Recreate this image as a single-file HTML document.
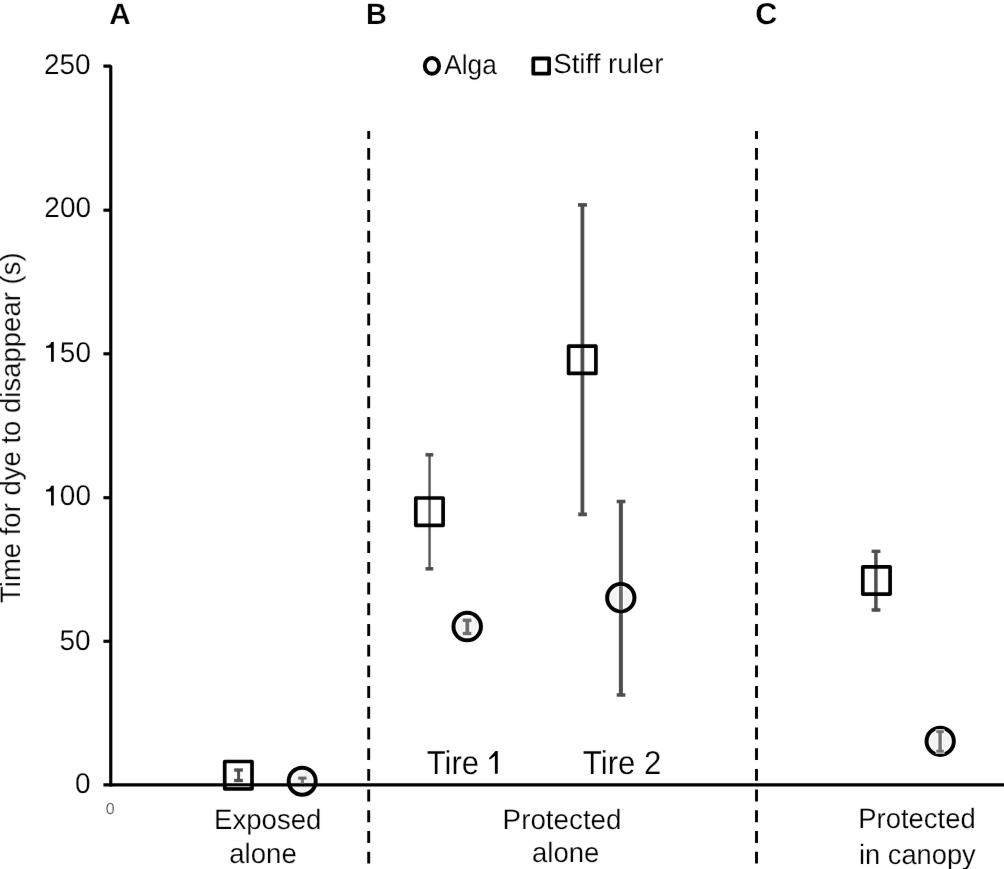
<!DOCTYPE html>
<html>
<head>
<meta charset="utf-8">
<style>
html,body{margin:0;padding:0;background:#fff;}
body{width:1004px;height:869px;overflow:hidden;}
svg{display:block;}
text{font-family:"Liberation Sans",sans-serif;fill:#000;text-rendering:geometricPrecision;stroke:#fff;stroke-width:0.2px;}
</style>
</head>
<body>
<svg width="1004" height="869" viewBox="0 0 1004 869">
<defs><filter id="soft" x="0" y="0" width="1004" height="869" filterUnits="userSpaceOnUse" color-interpolation-filters="sRGB"><feConvolveMatrix order="3" kernelMatrix="0.00163 0.03713 0.00163 0.03713 0.84497 0.03713 0.00163 0.03713 0.00163" edgeMode="duplicate"/></filter></defs>
<g filter="url(#soft)">
<rect width="1004" height="869" fill="#fff"/>
<!-- dashed separators -->
<line x1="368.7" y1="131" x2="368.7" y2="869" stroke="#000" stroke-width="2.9" stroke-dasharray="11.9 8.8" stroke-dashoffset="3.8"/>
<line x1="756.5" y1="131" x2="756.5" y2="869" stroke="#000" stroke-width="2.9" stroke-dasharray="11.9 8.8" stroke-dashoffset="3.8"/>

<!-- axes -->
<path d="M103.4,66.1 L110.75,66.1 L110.75,786.5" fill="none" stroke="#000" stroke-width="3.15" stroke-linejoin="bevel"/>
<g stroke="#000" stroke-width="3.15">
<line x1="103.4" y1="210.2" x2="110" y2="210.2"/>
<line x1="103.4" y1="353.8" x2="110" y2="353.8"/>
<line x1="103.4" y1="497.7" x2="110" y2="497.7"/>
<line x1="103.4" y1="641.3" x2="110" y2="641.3"/>
</g>

<!-- error bars (under markers) -->
<g stroke="#4d4d4d" fill="none">
<!-- exposed square -->
<line x1="238.6" y1="770" x2="238.6" y2="780.5" stroke-width="3"/>
<line x1="234.1" y1="770" x2="242.9" y2="770" stroke-width="3.3"/>
<line x1="234.1" y1="780.5" x2="242.9" y2="780.5" stroke-width="3.3"/>
<!-- tire1 square -->
<line x1="429.55" y1="454.8" x2="429.55" y2="568.8" stroke-width="2.3"/>
<line x1="425.5" y1="454.8" x2="433.3" y2="454.8" stroke-width="3.5"/>
<line x1="425.5" y1="568.8" x2="433.3" y2="568.8" stroke-width="3.5"/>
<!-- tire2 square -->
<line x1="582.4" y1="204.9" x2="582.4" y2="514.4" stroke-width="3.8"/>
<line x1="578" y1="204.9" x2="587" y2="204.9" stroke-width="3.6"/>
<line x1="578.2" y1="514.4" x2="586.9" y2="514.4" stroke-width="3.8"/>
<!-- tire2 circle -->
<line x1="620.9" y1="501.5" x2="620.9" y2="695" stroke-width="4"/>
<line x1="616.7" y1="501.5" x2="625.4" y2="501.5" stroke-width="3.5"/>
<line x1="616.7" y1="695" x2="625.4" y2="695" stroke-width="3.5"/>
<!-- C square -->
<line x1="875.9" y1="551.3" x2="875.9" y2="610" stroke-width="3.5"/>
<line x1="871.6" y1="551.3" x2="880.4" y2="551.3" stroke-width="3.3"/>
<line x1="871.6" y1="610" x2="880.4" y2="610" stroke-width="3.6"/>
</g>

<!-- data: squares -->
<g fill="none" stroke="#000" stroke-width="3.7" stroke-linejoin="round">
<rect x="224.7" y="761.5" width="27.3" height="27.3"/>
<rect x="415.8" y="498" width="27.3" height="27.3"/>
<rect x="568.6" y="346.1" width="27.3" height="27.3"/>
<rect x="862.8" y="566.8" width="27.3" height="27.3"/>
</g>
<!-- data: circles -->
<g fill="#fff" stroke="#000" stroke-width="4">
<circle cx="302.2" cy="781.2" r="13.5"/>
<circle cx="467.2" cy="626.6" r="13.75"/>
<circle cx="620.8" cy="597.7" r="13.65"/>
<circle cx="940.2" cy="741.3" r="13.65"/>
</g>
<g fill="#f3f4f6">
<circle cx="302.2" cy="781.2" r="10.2"/>
<circle cx="467.2" cy="626.6" r="10.4"/>
<circle cx="620.8" cy="597.7" r="10.3"/>
<circle cx="940.2" cy="741.3" r="10.3"/>
</g>
<!-- x axis -->
<line x1="103.4" y1="784.9" x2="1004" y2="784.9" stroke="#000" stroke-width="3.3"/>

<line x1="227.5" y1="786.6" x2="249.5" y2="786.6" stroke="#a8a8a8" stroke-width="1.2"/>
<!-- inner error bars for circles -->
<g fill="none" stroke="#fff">
<line x1="467.3" y1="620.3" x2="467.3" y2="633.5" stroke-width="6.2"/>
<line x1="462" y1="620.3" x2="472.1" y2="620.3" stroke-width="5.6"/>
<line x1="462" y1="633.5" x2="472.1" y2="633.5" stroke-width="5.4"/>
<line x1="620.9" y1="586.2" x2="620.9" y2="609.2" stroke-width="6.8"/>
<line x1="940.1" y1="731.7" x2="940.1" y2="751.2" stroke-width="5.8"/>
<line x1="935.6" y1="731.7" x2="944.5" y2="731.7" stroke-width="5"/>
<line x1="935.6" y1="751.2" x2="944.5" y2="751.2" stroke-width="5"/>
</g>
<g fill="none">
<line x1="302.4" y1="778" x2="302.4" y2="783.5" stroke-width="3" stroke="#777"/>
<line x1="298.2" y1="778.1" x2="306.5" y2="778.1" stroke-width="3" stroke="#666"/>
<line x1="467.3" y1="620.3" x2="467.3" y2="633.5" stroke-width="3.8" stroke="#6e6e6e"/>
<line x1="462.7" y1="620.3" x2="471.4" y2="620.3" stroke-width="3.6" stroke="#6e6e6e"/>
<line x1="462.7" y1="633.5" x2="471.4" y2="633.5" stroke-width="3.4" stroke="#6e6e6e"/>
<line x1="620.9" y1="586.2" x2="620.9" y2="609.2" stroke-width="3.9" stroke="#6a6a6a"/>
<line x1="940.1" y1="731.7" x2="940.1" y2="751.2" stroke-width="3.5" stroke="#727272"/>
<line x1="936.3" y1="731.7" x2="943.8" y2="731.7" stroke-width="3" stroke="#727272"/>
<line x1="936.3" y1="751.2" x2="943.8" y2="751.2" stroke-width="3" stroke="#727272"/>
</g>

<!-- legend markers -->
<ellipse cx="431.95" cy="65.9" rx="7.15" ry="7.85" fill="#fff" stroke="#000" stroke-width="3.9"/>
<ellipse cx="431.95" cy="65.9" rx="3.6" ry="4.6" fill="#f3f4f6"/>
<rect x="533.3" y="58.5" width="15.8" height="15.2" fill="none" stroke="#000" stroke-width="3.8" stroke-linejoin="round"/>

<!-- texts -->
<g id="txt" style="filter:grayscale(1)">
<text transform="translate(43.95,73.91) scale(1.0000,1.0200)" style="font-size:28px;">250</text>
<text transform="translate(44.31,216.87) scale(1.0000,1.0200)" style="font-size:28px;">200</text>
<text transform="translate(44.23,361.59) scale(1.0000,1.0200)" style="font-size:28px;"><tspan style="fill:transparent">1</tspan>50</text>
<text transform="translate(44.23,505.34) scale(1.0000,1.0200)" style="font-size:28px;"><tspan style="fill:transparent">1</tspan>00</text>
<text transform="translate(59.45,650.10) scale(1.0000,1.0200)" style="font-size:28px;">50</text>
<text transform="translate(75.06,792.88) scale(1.0000,1.0200)" style="font-size:28px;">0</text>
<text transform="translate(109.28,24.11) scale(1.0609,1.0500)" style="font-size:28px;font-weight:bold;">A</text>
<text transform="translate(365.93,24.11) scale(1.0300,1.0500)" style="font-size:28px;font-weight:bold;">B</text>
<text transform="translate(755.17,23.69) scale(1.0927,1.0800)" style="font-size:28px;font-weight:bold;">C</text>
<text transform="translate(444.16,74.43) scale(0.9394,0.9800)" style="font-size:28px;">Alga</text>
<text transform="translate(553.18,73.29) scale(0.9891,0.9800)" style="font-size:28px;">Stiff ruler</text>
<text transform="translate(214.03,828.81) scale(0.9849,1.0000)" style="font-size:28px;">Exposed</text>
<text transform="translate(229.27,863.37) scale(0.9849,1.0000)" style="font-size:28px;">alone</text>
<text transform="translate(502.60,828.79) scale(0.9920,1.0000)" style="font-size:28px;">Protected</text>
<text transform="translate(532.04,862.25) scale(0.9836,1.0000)" style="font-size:28px;">alone</text>
<text transform="translate(858.25,828.01) scale(0.9797,1.0000)" style="font-size:28px;">Protected</text>
<text transform="translate(858.94,863.64) scale(0.9743,1.0000)" style="font-size:28px;">in canopy</text>
<text transform="translate(426.80,773.69) scale(0.9850,1.0500)" style="font-size:31.5px;">Tire <tspan style="fill:transparent">1</tspan></text>
<text transform="translate(582.81,773.55) scale(0.9903,1.0500)" style="font-size:31.5px;">Tire 2</text>
<text transform="translate(105.84,813.96) scale(1.0000,1.0000)" style="font-size:16px;fill:#444;">0</text>
<text transform="translate(19.95,603.10) rotate(-90) scale(0.9824,1.0000)" style="font-size:28px;">Time for dye to disappear (s)</text>
<path d="M53.80,341.90 L53.80,361.70 L51.05,361.70 L51.05,347.80 C49.50,347.80 47.80,347.90 46.90,347.90 Q45.90,347.90 45.90,346.80 Q45.90,345.70 46.90,345.70 C48.90,345.60 50.60,344.50 51.20,341.90 Z" fill="#000"/>
<path d="M53.80,485.70 L53.80,505.50 L51.05,505.50 L51.05,491.60 C49.50,491.60 47.80,491.70 46.90,491.70 Q45.90,491.70 45.90,490.60 Q45.90,489.50 46.90,489.50 C48.90,489.40 50.60,488.30 51.20,485.70 Z" fill="#000"/>
<path d="M497.75,751.00 L497.75,773.80 L494.90,773.80 L494.90,755.90 L490.25,759.30 Q489.25,759.70 489.25,758.40 Q489.25,757.50 490.05,757.00 L495.55,751.00 Z" fill="#000"/>
</g>
</g>
</svg>
</body>
</html>
